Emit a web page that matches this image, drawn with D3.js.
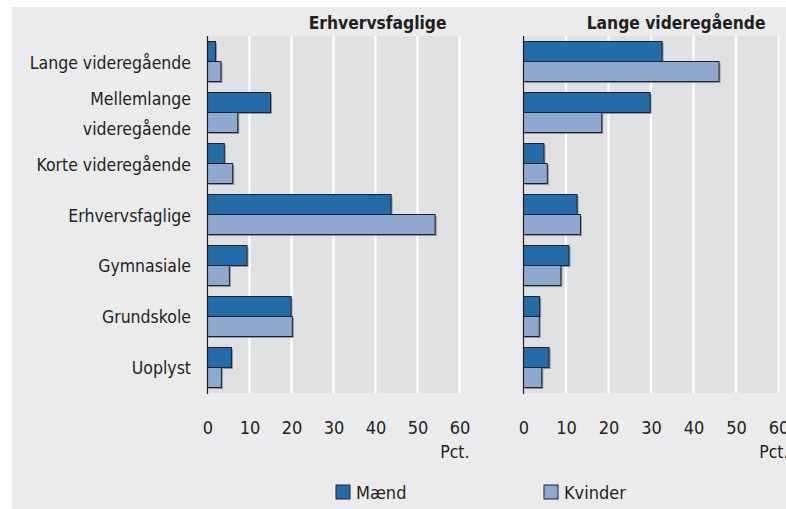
<!DOCTYPE html>
<html><head><meta charset="utf-8">
<script src="https://cdn.jsdelivr.net/npm/d3@7"></script>
<style>html,body{margin:0;padding:0;background:#fff;}svg{display:block;}</style>
</head><body>
<svg id="chart" width="786" height="509"></svg>
<script>
const categories = ["Lange videregående","Mellemlange videregående","Korte videregående","Erhvervsfaglige","Gymnasiale","Grundskole","Uoplyst"];
const series = ["Mænd","Kvinder"];
const panelTitles = ["Erhvervsfaglige","Lange videregående"];
const erhvMaend   = [1.9, 15.0, 4.0, 43.7, 9.4, 19.9, 5.7];
const erhvKvinder = [3.2, 7.2, 6.0, 54.2, 5.2, 20.2, 3.3];
const langeMaend   = [32.6, 29.8, 4.8, 12.6, 10.7, 3.8, 6.0];
const langeKvinder = [46.0, 18.4, 5.6, 13.4, 8.8, 3.7, 4.3];
const ticks = [0,10,20,30,40,50,60];
const unitLabel = "Pct.";

const colors = {"Mænd":"#236ca8","Kvinder":"#8fa8d0"};
const font = "'Liberation Sans Narrow','DejaVu Sans Condensed','Liberation Sans',sans-serif";
const textColor = "#231f20";

const svg = d3.select("#chart");
svg.append("rect").attr("x",12).attr("y",7).attr("width",786-12).attr("height",509-7).attr("fill","#ebebed");

const plotTop = 36, plotBottom = 393;
const y = d3.scaleBand().domain(categories).range([plotTop,plotBottom]).paddingInner(0.2157).paddingOuter(0.108);
const ySub = d3.scaleBand().domain(series).range([0,y.bandwidth()]);

const panels = [
  {title: panelTitles[0], range:[207.5,459.5], data:{"Mænd":erhvMaend,"Kvinder":erhvKvinder}},
  {title: panelTitles[1], range:[523.5,778.5], data:{"Mænd":langeMaend,"Kvinder":langeKvinder}}
];

panels.forEach(p => {
  const x = d3.scaleLinear().domain([0,60]).range(p.range);
  const g = svg.append("g");
  g.append("rect").attr("x",x(0)).attr("y",plotTop).attr("width",x(60)-x(0)).attr("height",plotBottom-plotTop).attr("fill","#dfe0e2");
  g.selectAll("line.grid").data(ticks.filter(t=>t>0)).enter().append("line")
    .attr("x1",d=>x(d)).attr("x2",d=>x(d)).attr("y1",plotTop).attr("y2",plotBottom)
    .attr("stroke","#fff").attr("stroke-width",2.2);
  categories.forEach((c,i) => {
    series.forEach(s => {
      const v = p.data[s][i];
      const by = y(c)+ySub(s);
      g.append("rect").attr("x",x(0)+1.5).attr("y",by+1.5).attr("width",x(v)-x(0)).attr("height",ySub.bandwidth())
        .attr("fill","#6f7278").attr("opacity",0.7);
      g.append("rect").attr("x",x(0)).attr("y",by).attr("width",x(v)-x(0)).attr("height",ySub.bandwidth())
        .attr("fill",colors[s]).attr("stroke","#1c2430").attr("stroke-width",1);
    });
  });
  g.append("line").attr("x1",x(0)).attr("x2",x(0)).attr("y1",plotTop).attr("y2",plotBottom+1).attr("stroke","#231f20").attr("stroke-width",1.2);
  const axis = d3.axisBottom(x).tickValues(ticks).tickSize(0).tickPadding(0);
  const ag = g.append("g").attr("transform",`translate(0,${plotBottom})`).call(axis);
  ag.select(".domain").remove();
  ag.selectAll("text").attr("y",41).attr("dy",0).attr("font-family",font).attr("font-size",18).attr("fill",textColor);
  g.append("text").attr("x",x(60)+10).attr("y",458).attr("text-anchor","end").attr("font-family",font).attr("font-size",17.5).attr("fill",textColor).text(unitLabel);
  g.append("text").attr("x",x(60)-13).attr("y",29).attr("text-anchor","end").attr("font-family",font).attr("font-weight","bold").attr("font-size",17.3).attr("fill",textColor).text(p.title);
});

// category labels
categories.forEach(c => {
  const cy = y(c) + y.bandwidth()/2 + 7;
  const t = svg.append("text").attr("x",191).attr("text-anchor","end").attr("font-family",font).attr("font-size",17.5).attr("fill",textColor);
  if (c === "Mellemlange videregående") {
    t.append("tspan").attr("x",191).attr("y",cy-15).text("Mellemlange");
    t.append("tspan").attr("x",191).attr("y",cy+15).text("videregående");
  } else {
    t.attr("y",cy).text(c);
  }
});

// legend
const legendX = [336, 544];
series.forEach((s,i) => {
  svg.append("rect").attr("x",legendX[i]).attr("y",485).attr("width",14).attr("height",14).attr("fill",colors[s]).attr("stroke","#1c2430").attr("stroke-width",1);
  svg.append("text").attr("x",legendX[i]+20).attr("y",499).attr("font-family",font).attr("font-size",18).attr("fill",textColor).text(s);
});
</script>
</body></html>
